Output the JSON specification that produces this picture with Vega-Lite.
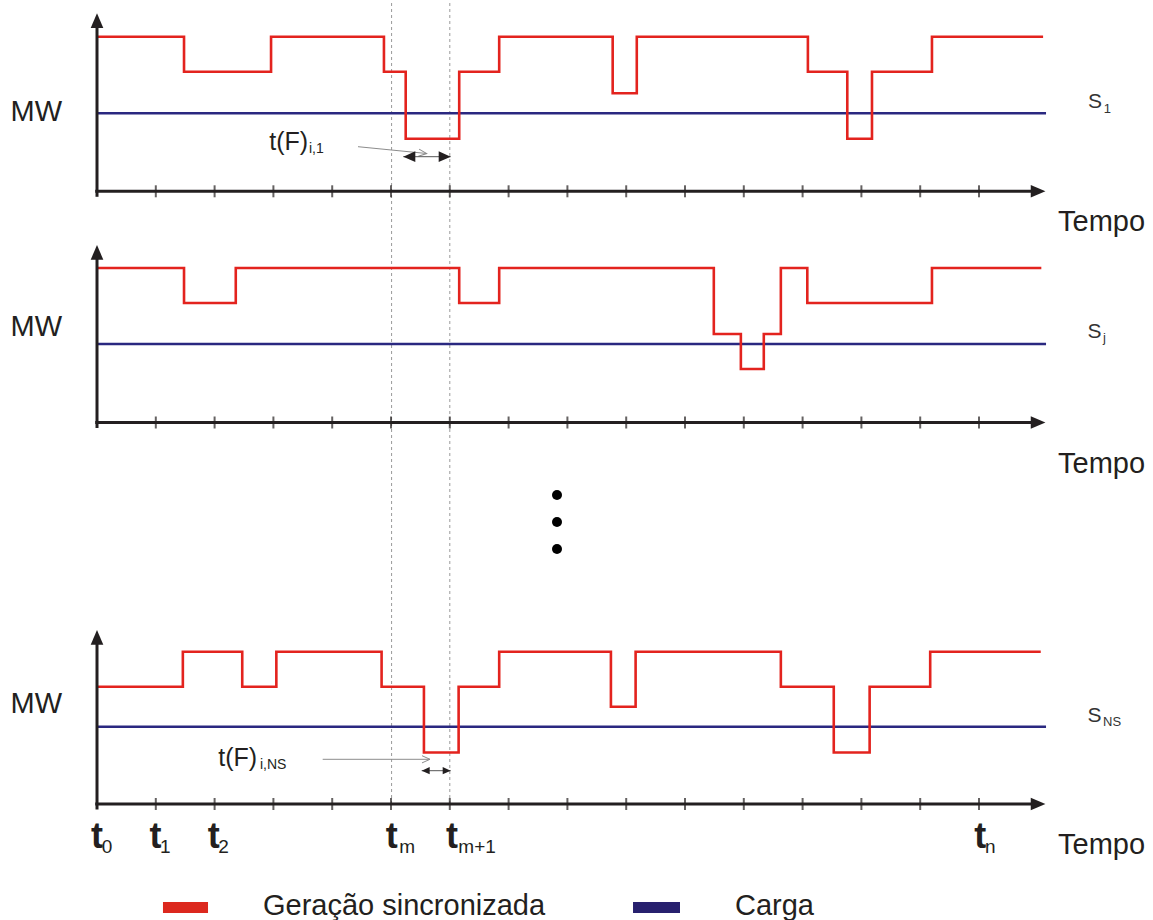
{
  "$schema": "https://vega.github.io/schema/vega-lite/v6.json",
  "width": 1153,
  "height": 920,
  "autosize": {"type": "none"},
  "padding": 0,
  "background": "white",
  "config": {"view": {"stroke": null}, "text": {"font": "Liberation Sans", "color": "#231f20", "align": "left", "baseline": "alphabetic"}},
  "encoding": {
    "x": {"field": "x", "type": "quantitative", "axis": null, "scale": {"domain": [-1.6497, 17.9592], "nice": false, "zero": false}},
    "y": {"field": "y", "type": "quantitative", "axis": null, "scale": {"domain": [0, 92], "nice": false, "zero": false}}
  },
  "layer": [
    {
      "data": {"values": [{"x": 5.01, "y": 11.6, "y2": 92}, {"x": 6.0, "y": 11.6, "y2": 92}]},
      "mark": {"type": "rule", "color": "#9a9a9a", "strokeWidth": 1, "strokeDash": [3, 3]},
      "encoding": {"y2": {"field": "y2"}}
    },
    {
      "data": {"values": [
        {"panel": 1, "x": 0, "y": 80.67}, {"panel": 1, "x": 16.14, "y": 80.67},
        {"panel": 2, "x": 0, "y": 57.6}, {"panel": 2, "x": 16.14, "y": 57.6},
        {"panel": 3, "x": 0, "y": 19.33}, {"panel": 3, "x": 16.14, "y": 19.33}
      ]},
      "mark": {"type": "line", "color": "#2a2880", "strokeWidth": 2.5},
      "encoding": {"detail": {"field": "panel"}}
    },
    {
      "data": {"values": [
        {"panel": 1, "x": 0, "y": 88.33}, {"panel": 1, "x": 1.48, "y": 84.83}, {"panel": 1, "x": 2.96, "y": 88.33}, {"panel": 1, "x": 4.88, "y": 84.83}, {"panel": 1, "x": 5.25, "y": 78.12}, {"panel": 1, "x": 6.16, "y": 84.83}, {"panel": 1, "x": 6.84, "y": 88.33}, {"panel": 1, "x": 8.77, "y": 82.67}, {"panel": 1, "x": 9.18, "y": 88.33}, {"panel": 1, "x": 12.09, "y": 84.83}, {"panel": 1, "x": 12.76, "y": 78.12}, {"panel": 1, "x": 13.18, "y": 84.83}, {"panel": 1, "x": 14.2, "y": 88.33}, {"panel": 1, "x": 16.09, "y": 88.33},
        {"panel": 2, "x": 0, "y": 65.2}, {"panel": 2, "x": 1.48, "y": 61.7}, {"panel": 2, "x": 2.36, "y": 65.2}, {"panel": 2, "x": 6.16, "y": 61.7}, {"panel": 2, "x": 6.84, "y": 65.2}, {"panel": 2, "x": 10.49, "y": 58.6}, {"panel": 2, "x": 10.95, "y": 55.1}, {"panel": 2, "x": 11.34, "y": 58.6}, {"panel": 2, "x": 11.63, "y": 65.2}, {"panel": 2, "x": 12.08, "y": 61.7}, {"panel": 2, "x": 14.2, "y": 65.2}, {"panel": 2, "x": 16.06, "y": 65.2},
        {"panel": 3, "x": 0, "y": 23.33}, {"panel": 3, "x": 1.46, "y": 26.83}, {"panel": 3, "x": 2.47, "y": 23.33}, {"panel": 3, "x": 3.05, "y": 26.83}, {"panel": 3, "x": 4.84, "y": 23.33}, {"panel": 3, "x": 5.56, "y": 16.75}, {"panel": 3, "x": 6.15, "y": 23.33}, {"panel": 3, "x": 6.84, "y": 26.83}, {"panel": 3, "x": 8.74, "y": 21.33}, {"panel": 3, "x": 9.16, "y": 26.83}, {"panel": 3, "x": 11.63, "y": 23.33}, {"panel": 3, "x": 12.53, "y": 16.75}, {"panel": 3, "x": 13.14, "y": 23.33}, {"panel": 3, "x": 14.17, "y": 26.83}, {"panel": 3, "x": 16.05, "y": 26.83}
      ]},
      "mark": {"type": "line", "color": "#e3231e", "strokeWidth": 2.6, "interpolate": "step-after", "strokeJoin": "miter"},
      "encoding": {"detail": {"field": "panel"}}
    },
    {
      "data": {"values": [
        {"x": 0, "y": 72.32, "x2": 0, "y2": 89.9},
        {"x": 0, "y": 49.2, "x2": 0, "y2": 66.7},
        {"x": 0, "y": 11.05, "x2": 0, "y2": 28.2},
        {"x": -0.03, "y": 72.87, "x2": 15.95, "y2": 72.87},
        {"x": -0.03, "y": 49.75, "x2": 15.95, "y2": 49.75},
        {"x": -0.03, "y": 11.6, "x2": 15.95, "y2": 11.6}
      ]},
      "mark": {"type": "rule", "color": "#231f20", "strokeWidth": 3},
      "encoding": {"x2": {"field": "x2"}, "y2": {"field": "y2"}}
    },
    {
      "data": {"values": [
        {"y": 72.87, "x": [1, 2, 3, 4, 5, 6, 7, 8, 9, 10, 11, 12, 13, 14, 15]},
        {"y": 49.75, "x": [1, 2, 3, 4, 5, 6, 7, 8, 9, 10, 11, 12, 13, 14, 15]},
        {"y": 11.6, "x": [1, 2, 3, 4, 5, 6, 7, 8, 9, 10, 11, 12, 13, 14, 15]}
      ]},
      "transform": [{"flatten": ["x"]}],
      "mark": {"type": "tick", "orient": "vertical", "color": "#231f20", "size": 12, "thickness": 2}
    },
    {
      "data": {"values": [{"x": 0, "y": 90.67}, {"x": 0, "y": 67.5}, {"x": 0, "y": 29.0}]},
      "mark": {"type": "point", "shape": "M0,0L-0.9,2.1L0.9,2.1Z", "size": 196, "filled": true, "color": "#231f20", "opacity": 1}
    },
    {
      "data": {"values": [{"x": 16.13, "y": 72.87}, {"x": 16.13, "y": 49.75}, {"x": 16.13, "y": 11.6}]},
      "mark": {"type": "point", "shape": "M0,0L-2.1,-0.9L-2.1,0.9Z", "size": 196, "filled": true, "color": "#231f20", "opacity": 1}
    },
    {
      "data": {"values": [{"x": 4.439, "y": 77.33, "x2": 5.607, "y2": 76.65}, {"x": 3.838, "y": 16.07, "x2": 5.663, "y2": 16.07}]},
      "mark": {"type": "rule", "color": "#8c8c8c", "strokeWidth": 1},
      "encoding": {"x2": {"field": "x2"}, "y2": {"field": "y2"}}
    },
    {
      "data": {"values": [{"x": 5.607, "y": 76.65}]},
      "mark": {"type": "point", "shape": "M-2,-0.9L0,0L-2,0.9", "size": 64, "filled": false, "color": "#8c8c8c", "strokeWidth": 1, "opacity": 1, "angle": 6}
    },
    {
      "data": {"values": [{"x": 5.663, "y": 16.07}]},
      "mark": {"type": "point", "shape": "M-2,-0.9L0,0L-2,0.9", "size": 64, "filled": false, "color": "#8c8c8c", "strokeWidth": 1, "opacity": 1}
    },
    {
      "data": {"values": [{"x": 5.209, "x2": 6.015, "y": 76.33}, {"x": 5.522, "x2": 6.015, "y": 14.93}]},
      "mark": {"type": "rule", "color": "#555555", "strokeWidth": 1},
      "encoding": {"x2": {"field": "x2"}}
    },
    {
      "data": {"values": [{"x": 5.209, "y": 76.33}]},
      "mark": {"type": "point", "shape": "M0,0L2,-0.9L2,0.9Z", "size": 144, "filled": true, "color": "#231f20", "opacity": 1}
    },
    {
      "data": {"values": [{"x": 6.015, "y": 76.33}]},
      "mark": {"type": "point", "shape": "M0,0L-2,-0.9L-2,0.9Z", "size": 144, "filled": true, "color": "#231f20", "opacity": 1}
    },
    {
      "data": {"values": [{"x": 5.522, "y": 14.93}]},
      "mark": {"type": "point", "shape": "M0,0L2,-0.9L2,0.9Z", "size": 64, "filled": true, "color": "#231f20", "opacity": 1}
    },
    {
      "data": {"values": [{"x": 6.015, "y": 14.93}]},
      "mark": {"type": "point", "shape": "M0,0L-2,-0.9L-2,0.9Z", "size": 64, "filled": true, "color": "#231f20", "opacity": 1}
    },
    {
      "data": {"values": [{"x": 7.823, "y": 42.5}, {"x": 7.823, "y": 39.8}, {"x": 7.823, "y": 37.1}]},
      "mark": {"type": "circle", "size": 100, "color": "#000000", "opacity": 1}
    },
    {
      "data": {"values": [
        {"series": "Geração sincronizada", "x": 1.122, "x2": 1.888, "y": 0.7, "y2": 1.8},
        {"series": "Carga", "x": 9.116, "x2": 9.915, "y": 0.7, "y2": 1.8}
      ]},
      "mark": {"type": "rect"},
      "encoding": {
        "x2": {"field": "x2"}, "y2": {"field": "y2"},
        "color": {"field": "series", "type": "nominal", "legend": null, "scale": {"domain": ["Geração sincronizada", "Carga"], "range": ["#dc281e", "#27206e"]}}
      }
    },
    {
      "data": {"values": [
        {"x": -1.471, "y": 79.86, "label": "MW"}, {"x": -1.471, "y": 58.36, "label": "MW"}, {"x": -1.471, "y": 20.66, "label": "MW"},
        {"x": 16.344, "y": 68.9, "label": "Tempo"}, {"x": 16.344, "y": 44.75, "label": "Tempo"}, {"x": 16.344, "y": 6.6, "label": "Tempo"},
        {"x": 2.823, "y": 0.55, "label": "Geração sincronizada"}, {"x": 10.85, "y": 0.55, "label": "Carga"}
      ]},
      "mark": {"type": "text", "fontSize": 29},
      "encoding": {"text": {"field": "label"}}
    },
    {
      "data": {"values": [{"x": 16.854, "y": 81.17, "label": "S"}, {"x": 16.847, "y": 58.2, "label": "S"}, {"x": 16.847, "y": 19.8, "label": "S"}]},
      "mark": {"type": "text", "fontSize": 21, "color": "#333333"},
      "encoding": {"text": {"field": "label"}}
    },
    {
      "data": {"values": [{"x": 17.12, "y": 80.73, "label": "1"}, {"x": 17.11, "y": 57.8, "label": "j"}, {"x": 17.11, "y": 19.4, "label": "NS"}]},
      "mark": {"type": "text", "fontSize": 13, "color": "#333333"},
      "encoding": {"text": {"field": "label"}}
    },
    {
      "data": {"values": [{"x": 2.93, "y": 77.0, "label": "t(F)"}, {"x": 2.063, "y": 15.4, "label": "t(F)"}]},
      "mark": {"type": "text", "fontSize": 25},
      "encoding": {"text": {"field": "label"}}
    },
    {
      "data": {"values": [{"x": 3.605, "y": 76.67, "label": "i,1"}, {"x": 2.772, "y": 15.1, "label": "i,NS"}]},
      "mark": {"type": "text", "fontSize": 14},
      "encoding": {"text": {"field": "label"}}
    },
    {
      "data": {"values": [
        {"x": -0.102, "y": 7.2, "label": "t"}, {"x": 0.893, "y": 7.2, "label": "t"}, {"x": 1.884, "y": 7.2, "label": "t"},
        {"x": 4.91, "y": 7.2, "label": "t"}, {"x": 5.935, "y": 7.2, "label": "t"}, {"x": 14.92, "y": 7.2, "label": "t"}
      ]},
      "mark": {"type": "text", "fontSize": 36, "fontWeight": "bold"},
      "encoding": {"text": {"field": "label"}}
    },
    {
      "data": {"values": [
        {"x": 0.08, "y": 6.73, "label": "0"}, {"x": 1.071, "y": 6.73, "label": "1"}, {"x": 2.063, "y": 6.73, "label": "2"},
        {"x": 5.14, "y": 6.73, "label": "m"}, {"x": 6.145, "y": 6.73, "label": "m+1"}, {"x": 15.1, "y": 6.73, "label": "n"}
      ]},
      "mark": {"type": "text", "fontSize": 19},
      "encoding": {"text": {"field": "label"}}
    }
  ]
}
